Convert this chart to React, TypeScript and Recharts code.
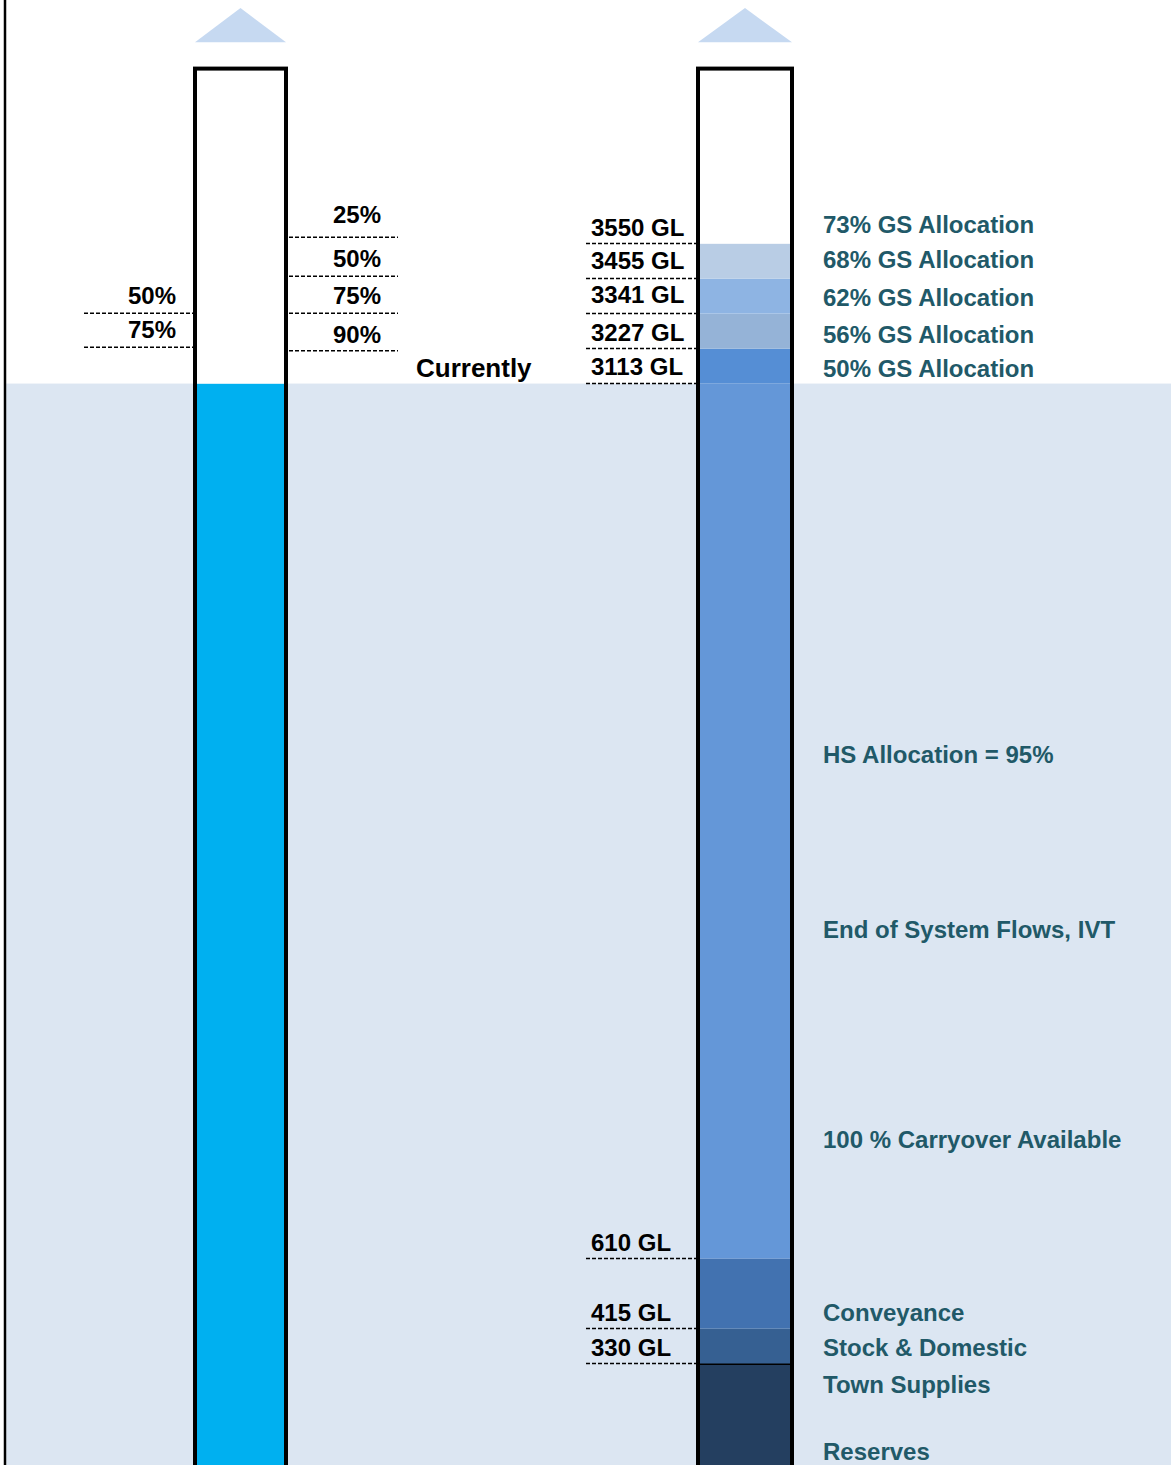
import React from 'react'
import { BarChart, Bar, XAxis, YAxis, ReferenceArea, LabelList } from 'recharts'

// Schematic storage "thermometer". The diagram is not to scale, so band
// heights are display units (1 unit ~ one allocation step).

const categories = ['Storage']

// left column: trigger levels, bottom to top
const gaugeHeights = [30.9, 0.94, 0.1, 0.97, 1.06, 1.11, 4.82]
const gaugeRightMarks = ['', '90%', '', '75%', '50%', '25%', '']
const gaugeLeftMarks = ['', '', '75%', '50%', '', '', '']
const currentLabel = 'Currently'

// right column: storage bands, bottom to top
const storageBands = ['Reserves', 'Stock & Domestic', 'Conveyance', 'Carryover', 'GS 50%', 'GS 56%', 'GS 62%', 'GS 68%', 'GS 73%']
const storageHeights = [2.9, 1, 2, 25, 1, 1, 1, 1, 5]
const storageVolumes = ['330 GL', '415 GL', '610 GL', '3113 GL', '3227 GL', '3341 GL', '3455 GL', '3550 GL', '']
const storageTopNotes = [
  'Stock & Domestic',
  'Conveyance',
  '',
  '50% GS Allocation',
  '56% GS Allocation',
  '62% GS Allocation',
  '68% GS Allocation',
  '73% GS Allocation',
  '',
]

// notes that sit inside a band rather than on its top edge
const freeNotes = ['HS Allocation = 95%', 'End of System Flows, IVT', '100 % Carryover Available', 'Town Supplies', 'Reserves']
const freeNoteLevels = [20.07, 15.07, 9.07, 2.07, 0.13]

// headroom above each column: a gap, then the "rising" arrow
const headroomHeights = [0.75, 0.98]

const Y_MAX = 41.86
const CHART_W = 1171
const CHART_H = 1465

const FONT = '"Liberation Sans", Arial, sans-serif'
const TEAL = '#215968'
const GAUGE_FILLS = ['#00b0f0', '#ffffff', '#ffffff', '#ffffff', '#ffffff', '#ffffff', '#ffffff']
const STORAGE_FILLS = ['#243f60', '#366092', '#4272b0', '#6497d8', '#558ed5', '#95b3d7', '#8eb4e3', '#b9cde5', '#ffffff']
const ARROW_FILL = '#c6d9f1'
const BACKDROP = '#dce6f2'

// text boxes in the original are placed by hand, so lifts above the rule vary a little
const GAUGE_RIGHT_LIFT = [0, 8, 0, 9, 9, 14, 0]
const NOTE_LIFT = [8, 8, 0, 7, 6, 8, 11, 11, 0]
const VOLUME_LIFT = [8, 8, 8, 9, 8, 11, 10, 8, 0]

const dash = { stroke: '#000', strokeWidth: 1.5, strokeDasharray: '4 2' }
const textStyle = { fontFamily: FONT, fontWeight: 700, fontSize: 24 }

const row: Record<string, string | number> = { name: categories[0] }
gaugeHeights.forEach((v, i) => (row[`g${i}`] = v))
storageHeights.forEach((v, i) => (row[`s${i}`] = v))
headroomHeights.forEach((v, i) => {
  row[`gh${i}`] = v
  row[`sh${i}`] = v
})
const data = [row]

const storageBase = storageHeights.map((_, i) => storageHeights.slice(0, i).reduce((a, b) => a + b, 0))

const box = (p: any) => p.viewBox ?? p

const bandShape = (fill: string, ruledTop = false) => (p: any) => (
  <g>
    <rect x={p.x} y={p.y} width={p.width} height={p.height} fill={fill} />
    {ruledTop && <line x1={p.x} x2={p.x + p.width} y1={p.y} y2={p.y} stroke="#000" strokeWidth={3} />}
  </g>
)

// top band also draws the column outline down to the bottom edge
const topShape = (p: any) => (
  <g>
    <rect x={p.x} y={p.y} width={p.width} height={p.height} fill="#ffffff" />
    <rect x={p.x} y={p.y} width={p.width} height={CHART_H - p.y + 20} fill="none" stroke="#000" strokeWidth={4} />
  </g>
)

const emptyShape = () => <g />

const arrowShape = (p: any) => (
  <polygon
    points={`${p.x},${p.y + p.height} ${p.x + p.width},${p.y + p.height} ${p.x + p.width / 2},${p.y}`}
    fill={ARROW_FILL}
  />
)

const gaugeLabel = (i: number) => (props: any) => {
  const { x, y, width } = box(props)
  const right = gaugeRightMarks[i]
  const left = gaugeLeftMarks[i]
  return (
    <g>
      {right && (
        <g>
          <line x1={x + width + 3} x2={x + width + 112} y1={y} y2={y} {...dash} />
          <text x={x + width + 71} y={y - GAUGE_RIGHT_LIFT[i]} textAnchor="middle" fill="#000" {...textStyle}>
            {right}
          </text>
        </g>
      )}
      {left && (
        <g>
          <line x1={x - 111} x2={x - 2} y1={y} y2={y} {...dash} />
          <text x={x - 19} y={y - 9} textAnchor="end" fill="#000" {...textStyle}>
            {left}
          </text>
        </g>
      )}
      {i === 0 && (
        <text x={x + width + 130} y={y - 7} fill="#000" {...textStyle} fontSize={26}>
          {currentLabel}
        </text>
      )}
    </g>
  )
}

const storageLabel = (i: number) => (props: any) => {
  const { x, y, width, height } = box(props)
  const vol = storageVolumes[i]
  const note = storageTopNotes[i]
  const lo = storageBase[i]
  const hi = lo + storageHeights[i]
  const inside = freeNotes
    .map((t, k) => ({ t, lvl: freeNoteLevels[k] }))
    .filter(n => n.lvl >= lo && n.lvl < hi)
  return (
    <g>
      {vol && (
        <g>
          <line x1={x - 112} x2={x - 2} y1={y} y2={y} {...dash} />
          <text x={x - 107} y={y - VOLUME_LIFT[i]} fill="#000" {...textStyle}>
            {vol}
          </text>
        </g>
      )}
      {note && (
        <text x={x + width + 31} y={y - NOTE_LIFT[i]} fill={TEAL} {...textStyle}>
          {note}
        </text>
      )}
      {inside.map(n => (
        <text key={n.t} x={x + width + 31} y={y + (height * (hi - n.lvl)) / storageHeights[i]} fill={TEAL} {...textStyle}>
          {n.t}
        </text>
      ))}
    </g>
  )
}

export default function App() {
  return (
    <div style={{ position: 'absolute', left: 0, top: 0, width: CHART_W, height: CHART_H, background: '#fff' }}>
      <BarChart
        width={CHART_W}
        height={CHART_H}
        data={data}
        margin={{ top: 0, right: 190, bottom: 0, left: 3 }}
        barGap={412}
      >
        <ReferenceArea
          y1={0}
          y2={gaugeHeights[0]}
          shape={(p: any) => (
            <rect x={p.x + 1.2} y={p.y} width={CHART_W - p.x} height={p.height} fill={BACKDROP} />
          )}
        />
        <XAxis dataKey="name" hide />
        <YAxis
          type="number"
          domain={[0, Y_MAX]}
          width={2}
          tick={false}
          tickLine={false}
          axisLine={{ stroke: '#000', strokeWidth: 2.5 }}
        />
        {gaugeHeights.map((_, i) => (
          <Bar
            key={`g${i}`}
            dataKey={`g${i}`}
            stackId="gauge"
            barSize={91}
            isAnimationActive={false}
            shape={i === gaugeHeights.length - 1 ? topShape : bandShape(GAUGE_FILLS[i])}
          >
            {(gaugeRightMarks[i] || gaugeLeftMarks[i] || i === 0) && <LabelList content={gaugeLabel(i)} />}
          </Bar>
        ))}
        {headroomHeights.map((_, i) => (
          <Bar
            key={`gh${i}`}
            dataKey={`gh${i}`}
            stackId="gauge"
            barSize={91}
            isAnimationActive={false}
            shape={i === 0 ? emptyShape : arrowShape}
          />
        ))}
        {storageBands.map((band, i) => (
          <Bar
            key={band}
            name={band}
            dataKey={`s${i}`}
            stackId="storage"
            barSize={94}
            isAnimationActive={false}
            shape={i === storageBands.length - 1 ? topShape : bandShape(STORAGE_FILLS[i], i === 0)}
          >
            <LabelList content={storageLabel(i)} />
          </Bar>
        ))}
        {headroomHeights.map((_, i) => (
          <Bar
            key={`sh${i}`}
            dataKey={`sh${i}`}
            stackId="storage"
            barSize={94}
            isAnimationActive={false}
            shape={i === 0 ? emptyShape : arrowShape}
          />
        ))}
      </BarChart>
    </div>
  )
}
